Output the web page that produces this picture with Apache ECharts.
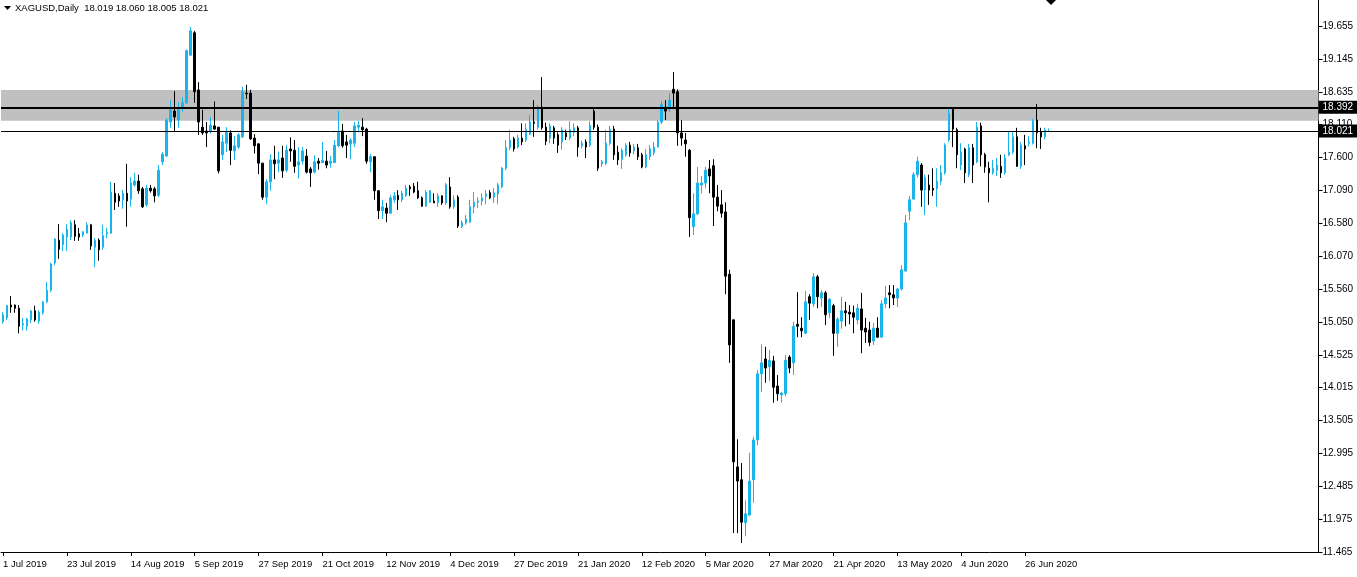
<!DOCTYPE html>
<html><head><meta charset="utf-8">
<script src="https://cdn.jsdelivr.net/npm/echarts@6/dist/echarts.min.js"></script>
<style>html,body{margin:0;padding:0;background:#fff}#c{width:1357px;height:577px}</style>
</head><body><div id="c"></div>
<script>
// Daily bars, each [open, high, low, close]
const bars2019a = [ // 1 Jul - 30 Aug 2019
[15.05,15.20,15.02,15.16],[15.11,15.31,15.08,15.30],[15.31,15.45,15.19,15.28],[15.31,15.32,15.19,15.26],[15.26,15.31,14.87,14.98],
[15.00,15.11,14.92,15.02],[14.98,15.11,14.91,15.09],[15.08,15.23,15.03,15.22],[15.22,15.30,15.05,15.08],[15.06,15.23,15.02,15.20],
[15.19,15.37,15.16,15.36],[15.36,15.67,15.34,15.54],[15.54,15.97,15.51,15.95],[15.97,16.35,15.93,16.34],[16.32,16.57,16.03,16.18],
[16.25,16.43,16.15,16.40],[16.37,16.57,16.15,16.49],[16.37,16.63,16.32,16.59],[16.56,16.63,16.31,16.38],[16.42,16.51,16.31,16.37],
[16.40,16.46,16.37,16.45],[16.43,16.60,16.43,16.56],[16.56,16.57,16.17,16.23],[16.21,16.35,15.90,16.32],[16.32,16.35,16.00,16.17],
[16.21,16.56,16.17,16.39],[16.42,16.51,16.35,16.44],[16.43,17.23,16.42,17.07],[17.05,17.21,16.79,16.91],[17.01,17.05,16.84,16.93],
[16.95,17.10,16.81,17.05],[17.05,17.51,16.53,16.93],[16.96,17.30,16.84,17.21],[17.18,17.37,17.15,17.24],[17.24,17.34,17.04,17.09],
[17.12,17.15,16.82,16.84],[16.87,17.18,16.84,17.13],[17.13,17.18,17.06,17.09],[17.12,17.15,16.91,17.01],[17.02,17.49,16.99,17.41],
[17.54,17.69,17.49,17.66],[17.63,18.22,17.62,18.19],[18.16,18.50,18.07,18.36],[18.33,18.64,18.02,18.24],[18.19,18.47,18.07,18.36]
];
const bars2019b = [ // 2 Sep - 31 Oct 2019
[18.39,18.55,18.32,18.46],[18.46,19.29,18.44,19.27],[19.20,19.64,19.19,19.58],[19.55,19.58,18.46,18.63],[18.66,18.78,17.96,18.16],
[18.08,18.35,17.96,17.99],[18.02,18.16,17.77,17.99],[18.01,18.24,17.98,18.11],[18.10,18.48,18.04,18.05],[18.08,18.08,17.36,17.40],
[17.65,17.96,17.57,17.85],[17.83,18.08,17.69,18.00],[17.99,18.03,17.49,17.72],[17.71,17.94,17.57,17.79],[17.77,17.99,17.74,17.96],
[17.93,18.71,17.91,18.63],[18.61,18.74,18.52,18.60],[18.61,18.66,17.88,17.90],[17.91,17.97,17.67,17.79],[17.82,17.83,17.35,17.52],
[17.52,17.52,16.95,16.99],[16.99,17.27,16.88,17.23],[17.23,17.66,17.09,17.57],[17.57,17.79,17.27,17.51],[17.52,17.70,17.38,17.57],
[17.60,17.79,17.29,17.40],[17.41,17.80,17.38,17.72],[17.74,17.92,17.54,17.71],[17.72,17.88,17.37,17.47],[17.49,17.77,17.28,17.54],
[17.55,17.77,17.50,17.71],[17.63,17.74,17.36,17.38],[17.43,17.46,17.15,17.37],[17.38,17.64,17.36,17.54],[17.55,17.60,17.42,17.52],
[17.53,17.85,17.52,17.56],[17.55,17.71,17.44,17.49],[17.52,17.63,17.45,17.55],[17.53,17.88,17.52,17.80],[17.79,18.33,17.77,18.00],
[18.02,18.13,17.76,17.79],[17.85,17.96,17.60,17.80],[17.82,17.91,17.58,17.88]
];
const bars2019c = [ // 31 Oct - 27 Dec 2019
[17.83,18.16,17.77,18.10],[18.08,18.18,18.00,18.11],[18.08,18.22,17.94,18.04],[18.05,18.07,17.51,17.55],[17.54,17.66,17.38,17.62],
[17.62,17.62,16.95,17.09],[17.09,17.10,16.65,16.78],[16.78,16.95,16.65,16.84],[16.82,16.90,16.60,16.74],[16.74,17.02,16.74,16.98],
[16.95,17.07,16.90,17.01],[17.02,17.10,16.79,16.95],[16.95,17.09,16.91,17.05],[17.02,17.18,16.99,17.13],[17.15,17.18,17.01,17.12],
[17.16,17.21,17.05,17.07],[17.09,17.23,16.96,16.98],[16.98,17.00,16.84,16.85],[16.85,17.10,16.84,17.07],[16.91,17.10,16.90,17.09],
[16.93,17.05,16.90,16.90],[16.91,17.05,16.84,17.01],[17.01,17.02,16.87,16.90],[16.90,17.21,16.87,17.18],[17.15,17.30,16.81,16.84],
[16.84,17.02,16.81,16.95],[16.99,17.02,16.51,16.54],[16.53,16.63,16.51,16.59],[16.59,16.71,16.56,16.65],[16.60,16.95,16.59,16.84],
[16.84,17.07,16.74,16.91],[16.91,16.99,16.82,16.93],[16.93,17.05,16.86,16.98],[17.00,17.10,16.88,17.04],[17.06,17.10,16.96,16.98],
[16.99,17.13,16.90,17.06],[17.04,17.21,16.88,17.18],[17.15,17.46,17.13,17.44],[17.44,17.88,17.41,17.76],[17.76,18.04,17.72,17.88],
[17.90,17.93,17.70,17.74]
];
const bars2020a = [ // 30 Dec 2019 - 26 Feb 2020
[17.77,17.96,17.75,17.91],[17.91,18.14,17.80,17.85],[17.88,18.14,17.85,18.04],[17.97,18.27,17.96,18.16],[18.16,18.50,17.93,18.14],
[18.08,18.43,18.04,18.39],[18.39,18.86,18.04,18.07],[18.08,18.15,17.80,17.86],[17.91,18.14,17.83,18.10],[18.07,18.10,17.82,17.91],
[17.96,18.00,17.68,17.80],[17.85,18.08,17.73,18.04],[17.99,18.04,17.88,17.93],[17.91,18.17,17.88,18.04],[18.00,18.14,17.94,18.07],
[18.07,18.10,17.62,17.77],[17.79,17.87,17.75,17.83],[17.85,17.89,17.60,17.77],[17.80,18.17,17.77,18.11],[18.33,18.36,18.04,18.08],
[18.08,18.12,17.40,17.44],[17.51,17.57,17.46,17.54],[17.52,18.04,17.49,17.83],[17.83,18.10,17.80,18.04],[18.05,18.10,17.57,17.65],
[17.69,17.79,17.49,17.57],[17.58,17.75,17.43,17.72],[17.65,17.83,17.62,17.80],[17.80,17.85,17.62,17.68],[17.71,17.82,17.66,17.77],
[17.76,17.82,17.57,17.62],[17.65,17.68,17.44,17.46],[17.46,17.74,17.44,17.65],[17.62,17.80,17.57,17.74],[17.68,17.85,17.64,17.77],
[17.77,18.19,17.77,18.16],[18.16,18.49,18.13,18.43],[18.39,18.50,18.19,18.33],[18.36,18.61,18.31,18.50],[18.67,18.94,18.38,18.61],
[18.63,18.67,17.79,17.99],[17.99,18.19,17.79,17.91]
];
const bars2020b = [ // 27 Feb - 15 Apr 2020
[17.88,17.99,17.62,17.82],[17.72,17.74,16.37,16.67],[16.53,17.05,16.40,16.73],[16.73,17.46,16.71,17.21],[17.18,17.32,17.05,17.21],
[17.21,17.46,17.13,17.41],[17.43,17.57,17.05,17.32],[17.48,17.58,16.54,16.99],[16.99,17.18,16.77,16.85],[16.87,17.10,16.67,16.74],
[16.76,16.91,15.48,15.76],[15.79,15.86,14.41,14.69],[15.08,15.08,11.76,12.87],[12.79,13.22,11.76,12.57],[12.59,12.85,11.605,11.93],
[11.92,12.27,11.71,12.06],[12.04,13.01,12.03,12.57],[12.59,13.26,12.23,13.21],[13.21,14.30,13.13,14.24],[14.24,14.70,13.96,14.41],
[14.47,14.66,14.10,14.33],[14.35,14.61,14.13,14.45],[14.44,14.52,13.79,14.03],[14.05,14.22,13.82,13.93],[13.91,13.96,13.79,13.94],
[13.93,14.53,13.89,14.45],[14.50,14.53,14.25,14.33],[14.41,15.05,14.22,14.98],[15.01,15.51,14.81,14.98],[14.95,15.12,14.81,14.91],
[14.87,15.53,14.86,15.36],[15.44,15.48,15.08,15.34],[15.33,15.81,15.28,15.75],[15.75,15.78,15.26,15.44]
];
const bars2020c = [ // 16 Apr - 15 May 2020
[15.42,15.54,15.28,15.50],[15.50,15.53,15.00,15.16],[15.19,15.42,15.11,15.40],[15.30,15.33,14.52,14.87],[14.87,15.12,14.66,15.09],
[15.06,15.44,14.94,15.22],[15.22,15.36,14.98,15.19],[15.20,15.31,15.01,15.17],[15.19,15.30,14.87,15.12],[15.08,15.33,15.01,15.26],
[15.25,15.50,14.56,14.92],[14.95,15.11,14.72,14.89],[14.92,15.05,14.67,14.73],[14.75,15.03,14.69,14.95],[14.95,15.12,14.80,14.81],
[14.81,15.39,14.80,15.33],[15.33,15.61,15.26,15.42],[15.50,15.62,15.26,15.47],[15.47,15.62,15.31,15.42],[15.42,15.58,15.28,15.56],
[15.56,15.93,15.54,15.86],[15.84,16.71,15.83,16.59]
];
const bars2020d = [ // 18 May - 6 Jul 2020
[16.77,17.01,16.63,16.95],[16.96,17.38,16.95,17.34],[17.34,17.62,17.30,17.55],[17.49,17.52,16.84,17.10],[17.10,17.34,16.71,17.30],
[17.18,17.34,16.87,17.10],[17.13,17.44,17.01,17.10],[17.12,17.44,16.84,17.24],[17.24,17.49,17.18,17.37],[17.37,17.83,17.34,17.80],
[17.88,18.38,17.85,18.29],[18.36,18.38,17.77,18.05],[18.04,18.07,17.44,17.65],[17.49,17.83,17.41,17.69],[17.74,17.76,17.21,17.37],
[17.34,17.82,17.30,17.76],[17.76,17.82,17.21,17.49],[17.54,18.16,17.52,18.08],[18.10,18.15,17.47,17.65],[17.65,17.68,17.37,17.46],
[17.44,17.54,16.91,17.37],[17.37,17.57,17.34,17.44],[17.41,17.60,17.32,17.49],[17.47,17.65,17.29,17.37],[17.37,17.66,17.34,17.60],
[17.65,18.02,17.63,17.69],[17.69,18.00,17.66,17.93],[17.93,18.07,17.46,17.47],[17.47,17.85,17.43,17.80],[17.79,17.96,17.49,17.74],
[17.83,17.94,17.78,17.85],[17.83,18.21,17.81,18.18],[18.19,18.44,17.75,17.99],[18.00,18.07,17.74,17.93],[17.93,18.07,17.89,18.04],
[18.019,18.060,18.005,18.021]
];
const marketHolidays = ['2019-12-25','2020-01-01','2020-04-10'];
const monthNames = ['Jan','Feb','Mar','Apr','May','Jun','Jul','Aug','Sep','Oct','Nov','Dec'];
const yTickLabels = ['11.465','11.975','12.485','12.995','13.505','14.015','14.525','15.050','15.560','16.070','16.580','17.090','17.600','18.110','18.635','19.145','19.655'];
const titleText = 'XAGUSD,Daily  18.019 18.060 18.005 18.021';
const zoneBand = [18.18, 18.66];
const resistanceLevel = 18.392;
const lastPrice = 18.021;

const bars = [].concat(bars2019a, bars2019b, bars2019c, bars2020a, bars2020b, bars2020c, bars2020d);
const dates = [];
const d = new Date(Date.UTC(2019, 6, 1));
while (dates.length < bars.length) {
  const wd = d.getUTCDay();
  const iso = d.toISOString().slice(0, 10);
  if (wd !== 0 && wd !== 6 && !marketHolidays.includes(iso)) {
    dates.push(d.getUTCDate() + ' ' + monthNames[d.getUTCMonth()] + ' ' + d.getUTCFullYear());
  }
  d.setUTCDate(d.getUTCDate() + 1);
}
const TOTAL_SLOTS = 330;
const cats = dates.slice();
for (let i = dates.length; i < TOTAL_SLOTS; i++) cats.push('pad' + i);
const candleData = bars.map(b => [b[0], b[3], b[2], b[1]]);

const Y_MIN = 11.465, Y_MAX = 20.06, Y_STEP = 0.511875;
const FONT = 'Liberation Sans';
const BLUE = '#1ab3ea';
const showLabel = (idx) => idx < dates.length && idx % 16 === 0;

const chart = echarts.init(document.getElementById('c'), null, {renderer: 'canvas'});
chart.setOption({
  animation: false,
  backgroundColor: '#fff',
  grid: {left: -1.5, right: 38.5, top: 0, bottom: 25, containLabel: false},
  xAxis: {
    type: 'category', data: cats, boundaryGap: true,
    axisLine: {show: true, onZero: false, lineStyle: {color: '#000', width: 1}},
    axisTick: {show: true, alignWithLabel: true, length: 4, interval: (i) => showLabel(i), lineStyle: {color: '#000'}},
    axisLabel: {interval: (i) => showLabel(i), align: 'left', margin: 7, color: '#000', fontFamily: FONT, fontSize: 9.5,
      formatter: (v) => v.startsWith('pad') ? '' : v},
    splitLine: {show: false}
  },
  yAxis: {
    type: 'value', position: 'right', min: Y_MIN, max: Y_MAX, interval: Y_STEP, z: 0,
    axisLine: {show: true, lineStyle: {color: '#000', width: 1}},
    axisTick: {show: true, inside: false, length: 4, lineStyle: {color: '#000'}},
    axisLabel: {margin: 4, color: '#000', fontFamily: FONT, fontSize: 10, showMaxLabel: false,
      formatter: (v) => { const k = Math.round((v - Y_MIN) / Y_STEP); const s = yTickLabels[k]; return (s && Math.abs(v - (Y_MIN + k * Y_STEP)) < 0.01) ? s : ''; }},
    splitLine: {show: false}
  },
  series: [{
    type: 'candlestick', data: candleData, barWidth: 2, z: 2,
    itemStyle: {color: BLUE, color0: '#000', borderColor: BLUE, borderColor0: '#000', borderWidth: 1},
    markArea: {silent: true, z: 1, itemStyle: {color: '#c0c0c0', opacity: 1},
      data: [[{yAxis: zoneBand[0]}, {yAxis: zoneBand[1]}]]},
    markLine: {silent: true, z: 10, symbol: ['none', 'none'], animation: false,
      lineStyle: {color: '#000', type: 'solid'},
      label: {show: true, position: 'end', distance: 0, backgroundColor: '#000', color: '#fff', fontFamily: FONT, fontSize: 10, padding: [2, 6, 1, 4]},
      data: [
        {yAxis: resistanceLevel, lineStyle: {width: 2, color: '#000', type: 'solid'}, label: {formatter: resistanceLevel.toFixed(3)}},
        {yAxis: lastPrice, lineStyle: {width: 1, color: '#000', type: 'solid'}, label: {formatter: lastPrice.toFixed(3)}}
      ]}
  }],
  graphic: [
    {type: 'polygon', shape: {points: [[4, 6], [11, 6], [7.5, 10]]}, style: {fill: '#000'}},
    {type: 'text', left: 15, top: 3, style: {text: titleText, font: '9.5px "Liberation Sans"', fill: '#000'}},
    {type: 'polygon', shape: {points: [[1046, 0], [1056, 0], [1051, 5]]}, style: {fill: '#000'}}
  ]
});
</script></body></html>
